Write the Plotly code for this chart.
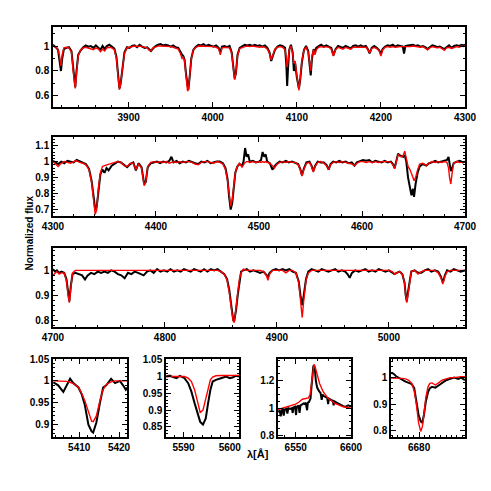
import plotly.graph_objs as go

# ---- panel 1: 3810-4300 A (shared wavelength grid for model and observed)
p1_wave = [3810, 3812, 3814, 3816, 3817.5, 3819.5, 3821, 3823, 3826, 3829,
           3832, 3834, 3835.5, 3836.5, 3838, 3840, 3843, 3846, 3849, 3852,
           3855, 3858, 3861, 3864, 3866.5, 3869, 3871.5, 3874, 3877, 3880,
           3883, 3885.5, 3887.5, 3889, 3890.5, 3892.5, 3895, 3898, 3901, 3904,
           3907, 3910, 3913, 3916, 3919, 3922, 3924.5, 3926.5, 3929, 3932,
           3935, 3938, 3941, 3944, 3947, 3950, 3953, 3956, 3959, 3961.5,
           3963.5, 3965, 3966.5, 3968.5, 3970, 3971, 3972.5, 3974.5, 3977, 3980,
           3983, 3986, 3989, 3992, 3995, 3998, 4001, 4004, 4007, 4009,
           4011, 4014, 4017, 4020, 4022.5, 4024.5, 4026, 4027.5, 4029.5, 4032,
           4035, 4038, 4041, 4044, 4047, 4050, 4053, 4056, 4059, 4062,
           4065, 4067.5, 4069.5, 4071.5, 4074, 4077, 4080, 4083, 4086, 4087.5,
           4088.5, 4089.5, 4091, 4093, 4095, 4096.5, 4098, 4100, 4101.5, 4102.5,
           4104, 4106, 4108.5, 4111, 4113.5, 4115, 4116.5, 4118, 4120, 4121.5,
           4123, 4126, 4129, 4132, 4135, 4138, 4141, 4143.5, 4146, 4149,
           4152, 4155, 4158, 4161, 4164, 4167, 4170, 4173, 4176, 4179,
           4182, 4184.5, 4186.5, 4189, 4192, 4195, 4198, 4200, 4202, 4205,
           4208, 4211, 4214, 4217, 4220, 4223, 4226, 4227.5, 4229, 4232,
           4235, 4238, 4241, 4244, 4247, 4250, 4253, 4255.5, 4258, 4261,
           4264, 4267, 4270, 4273, 4275.5, 4278, 4281, 4284, 4287, 4290,
           4293, 4296, 4298, 4300]
p1_model = [1.0, 0.995, 0.99, 0.97, 0.93, 0.84, 0.93, 0.985, 0.99, 0.985,
            0.95, 0.8, 0.67, 0.66, 0.78, 0.92, 0.97, 0.985, 0.99, 0.985,
            0.98, 0.97, 0.985, 0.975, 0.955, 0.975, 0.96, 0.985, 0.99, 0.985,
            0.97, 0.9, 0.75, 0.65, 0.7, 0.82, 0.94, 0.985, 0.99, 0.995,
            1.0, 0.995, 1.0, 0.995, 0.99, 0.985, 0.965, 0.96, 0.985, 0.995,
            1.0, 1.0, 1.0, 0.995, 1.0, 0.995, 0.99, 0.985, 0.975, 0.94,
            0.9, 0.91, 0.88, 0.74, 0.64, 0.65, 0.76, 0.9, 0.97, 0.99,
            1.0, 1.0, 1.0, 0.995, 1.0, 0.995, 0.995, 0.99, 0.98, 0.93,
            0.985, 0.99, 0.99, 0.985, 0.94, 0.82, 0.73, 0.78, 0.92, 0.98,
            0.99, 0.995, 1.0, 0.995, 1.0, 0.995, 0.995, 0.99, 0.995, 0.99,
            0.975, 0.94, 0.89, 0.93, 0.975, 0.99, 0.995, 0.99, 0.97, 0.9,
            0.83, 0.88, 0.97, 1.0, 0.94, 0.86, 0.88, 0.76, 0.66, 0.645,
            0.74, 0.88, 0.97, 0.99, 0.95, 0.86, 0.8, 0.92, 0.97, 0.93,
            0.97, 0.99, 0.995, 0.99, 0.995, 0.99, 0.975, 0.92, 0.97, 0.99,
            0.985, 0.975, 0.99, 0.985, 0.975, 0.99, 0.99, 0.995, 0.99, 0.99,
            0.99, 0.97, 0.945, 0.98, 0.99, 0.98, 0.96, 0.92, 0.97, 0.99,
            0.995, 0.99, 0.995, 0.99, 0.995, 0.995, 0.995, 0.995, 0.995, 0.99,
            0.995, 1.0, 0.995, 0.995, 0.99, 0.995, 0.985, 0.97, 0.985, 0.995,
            0.99, 0.985, 0.99, 0.975, 0.965, 0.985, 0.99, 0.98, 0.99, 0.995,
            0.99, 1.0, 0.995, 1.0]
p1_obs = [1.01, 1.0, 0.985, 0.97, 0.9, 0.8, 0.9, 0.975, 0.985, 0.99,
          0.96, 0.82, 0.69, 0.67, 0.8, 0.93, 0.965, 0.99, 1.005, 0.995,
          1.0, 0.985, 1.005, 0.99, 0.97, 1.0, 0.975, 1.0, 1.01, 0.995,
          0.98, 0.91, 0.77, 0.66, 0.7, 0.83, 0.95, 0.99, 0.985, 1.0,
          1.005, 0.99, 1.01, 0.995, 0.985, 0.99, 0.975, 0.96, 0.98, 1.0,
          1.01, 1.015, 1.005, 1.01, 1.005, 0.995, 1.005, 0.99, 0.985, 0.95,
          0.93, 0.92, 0.89, 0.76, 0.66, 0.65, 0.75, 0.9, 0.97, 0.995,
          1.01, 1.005, 1.015, 1.0, 1.01, 1.005, 0.995, 1.005, 0.985, 0.95,
          0.995, 1.0, 0.99, 1.0, 0.95, 0.83, 0.74, 0.78, 0.93, 0.985,
          1.0, 1.01, 1.005, 1.01, 1.0, 1.01, 1.0, 1.005, 0.995, 1.005,
          0.985, 0.95, 0.88, 0.92, 0.97, 0.995, 1.005, 1.0, 0.985, 0.85,
          0.68, 0.82, 0.97, 1.01, 0.95, 0.8, 0.86, 0.75, 0.67, 0.66,
          0.73, 0.87, 0.97, 1.0, 0.96, 0.83, 0.765, 0.9, 0.975, 0.94,
          0.985, 1.0, 1.01, 0.995, 1.005, 0.995, 0.985, 0.925, 0.975, 1.0,
          0.995, 0.985, 1.0, 0.99, 0.98, 1.0, 1.005, 0.995, 1.005, 0.995,
          1.0, 0.975, 0.94, 0.985, 1.0, 0.985, 0.965, 0.935, 0.975, 0.995,
          1.005, 1.0, 1.01, 0.995, 1.005, 1.0, 0.995, 0.94, 1.0, 1.005,
          1.005, 1.01, 1.0, 1.005, 0.995, 1.0, 0.99, 0.975, 0.99, 1.005,
          1.0, 0.99, 0.995, 0.985, 0.975, 0.99, 1.005, 0.985, 1.0, 1.005,
          1.0, 1.01, 1.005, 1.01]

# ---- panel 2: 4300-4700 A
p2_wave = [4300, 4303, 4305, 4308, 4311, 4314, 4317, 4320, 4323, 4326,
           4329, 4332, 4335, 4337.5, 4339.5, 4341, 4342.5, 4344, 4346, 4348,
           4350, 4352, 4354, 4357, 4360, 4363, 4366, 4369, 4372, 4375,
           4378, 4380.5, 4383, 4386, 4388.5, 4390, 4392, 4395, 4398, 4401,
           4404, 4407, 4410, 4413, 4415, 4417, 4420, 4423, 4426, 4429,
           4432, 4435, 4438, 4441, 4444, 4447, 4450, 4453, 4456, 4459,
           4462, 4465, 4467.5, 4469.5, 4471, 4472.5, 4474, 4475.5, 4477, 4479,
           4481, 4483.5, 4485, 4486.5, 4488, 4489.5, 4491, 4494, 4497, 4500,
           4502, 4503.5, 4505, 4506.5, 4508, 4510.5, 4513, 4515, 4517, 4520,
           4523, 4526, 4529, 4532, 4535, 4538, 4540, 4541.7, 4543.5, 4546,
           4549, 4551, 4552.7, 4554.5, 4557, 4560, 4563, 4565.5, 4567.6, 4569.5,
           4572, 4575, 4578, 4581, 4584, 4587, 4590, 4592.7, 4595, 4598,
           4601, 4604, 4607, 4610, 4613, 4616, 4619, 4622, 4625, 4628,
           4630, 4631.7, 4633.5, 4635, 4636.5, 4638, 4640, 4641.5, 4643, 4644.7,
           4646.5, 4648, 4649.5, 4650.5, 4652, 4654, 4656, 4659, 4662.5, 4665,
           4668, 4671, 4674, 4677, 4680, 4682.5, 4684, 4685, 4686.2, 4687.5,
           4689, 4692, 4695, 4698, 4700]
p2_model = [1.0, 0.985, 0.97, 0.99, 1.0, 0.995, 0.99, 1.0, 1.005, 0.995,
            0.99, 0.98, 0.95, 0.87, 0.76, 0.67, 0.7, 0.83, 0.93, 0.97,
            0.975, 0.98, 0.985, 0.99, 0.995, 1.0, 0.995, 0.975, 0.97, 0.99,
            0.99, 0.95, 0.985, 0.96, 0.85, 0.87, 0.97, 0.995, 1.0, 0.995,
            1.0, 0.995, 1.0, 0.99, 0.995, 1.0, 0.995, 1.0, 0.995, 1.0,
            1.0, 0.995, 0.985, 0.98, 0.995, 1.0, 1.0, 0.995, 0.99, 1.0,
            0.995, 0.985, 0.95, 0.88, 0.78, 0.72, 0.76, 0.86, 0.93, 0.97,
            0.99, 0.965, 0.985, 0.995, 1.0, 1.0, 0.995, 1.0, 0.995, 1.0,
            0.995, 1.0, 0.995, 1.0, 0.995, 0.99, 0.975, 0.96, 0.98, 0.995,
            1.0, 0.995, 1.0, 0.995, 0.995, 0.98, 0.95, 0.91, 0.95, 0.99,
            0.995, 0.97, 0.935, 0.97, 0.995, 1.0, 0.99, 0.975, 0.95, 0.98,
            0.995, 1.0, 0.995, 1.0, 0.995, 0.99, 0.985, 0.975, 0.99, 1.0,
            1.0, 0.995, 1.0, 0.995, 1.0, 0.995, 1.0, 1.0, 1.0, 0.995,
            0.98, 0.955, 1.0, 1.045, 1.035, 1.03, 1.04, 1.065, 1.02, 0.97,
            0.95, 0.93, 0.9, 0.88, 0.9, 0.95, 0.985, 0.99, 0.975, 0.99,
            1.0, 0.995, 1.0, 0.995, 1.0, 0.995, 0.96, 0.9, 0.86, 0.93,
            0.99, 1.0, 0.995, 1.0, 1.0]
p2_obs = [1.005, 0.995, 0.985, 1.0, 0.99, 1.005, 1.0, 0.995, 1.01, 1.0,
          0.995, 0.985, 0.955, 0.88, 0.78, 0.7, 0.72, 0.82, 0.92, 0.95,
          0.93, 0.96, 0.945, 0.975, 0.99, 1.0, 0.995, 0.98, 0.965, 0.985,
          0.995, 0.945, 0.99, 0.965, 0.86, 0.87, 0.965, 0.99, 0.995, 1.0,
          0.99, 1.0, 0.995, 1.005, 1.03, 0.995, 1.005, 0.99, 1.0, 0.995,
          1.005, 0.995, 0.99, 0.985, 1.0, 0.995, 1.005, 0.99, 0.995, 1.0,
          1.0, 0.99, 0.96, 0.89, 0.78, 0.7, 0.74, 0.85, 0.93, 0.97,
          0.985, 0.975, 1.0, 1.085, 1.03, 1.045, 1.0, 1.005, 0.995, 1.0,
          1.01, 1.06, 1.03, 1.045, 1.0, 0.99, 0.95, 0.97, 0.985, 1.0,
          0.995, 1.005, 0.995, 1.0, 0.99, 0.985, 0.955, 0.915, 0.955, 0.995,
          1.0, 0.975, 0.94, 0.975, 1.0, 0.995, 0.995, 0.98, 0.95, 0.985,
          1.0, 0.995, 1.005, 0.995, 1.0, 0.99, 0.995, 0.975, 0.995, 1.005,
          1.01, 1.005, 1.01, 0.995, 1.005, 1.0, 0.995, 1.005, 0.995, 1.0,
          0.985, 0.96, 1.01, 1.05, 1.04, 1.035, 1.03, 1.04, 1.0, 0.9,
          0.85, 0.79, 0.83, 0.78, 0.86, 0.93, 0.97, 0.985, 0.975, 0.99,
          0.995, 1.005, 0.995, 1.0, 1.005, 1.01, 1.03, 0.97, 0.94, 0.96,
          0.99, 1.0, 1.005, 0.995, 1.0]

# ---- panel 3: 4700-5068 A
p3_wave = [4700, 4702, 4703.5, 4705.5, 4707.5, 4710, 4712, 4713.5, 4714.6, 4716,
           4717.5, 4720, 4723, 4726, 4728.6, 4731, 4734, 4737, 4740, 4743,
           4746, 4749, 4752, 4755, 4758, 4761, 4764, 4767, 4770, 4773,
           4776, 4779, 4781, 4784, 4787, 4790, 4793, 4796, 4799, 4802,
           4805, 4808, 4811, 4814, 4817, 4820, 4823, 4826, 4829, 4832,
           4835, 4838, 4841, 4844, 4847, 4850, 4853, 4855.5, 4857.5, 4859.5,
           4861, 4862, 4863.5, 4865, 4866.5, 4868, 4870, 4873, 4876, 4879,
           4882, 4885, 4888, 4890.5, 4892, 4893.5, 4896, 4899, 4902, 4905,
           4908, 4911, 4914, 4917, 4919.5, 4921, 4922.6, 4924, 4926, 4928,
           4931, 4934, 4937, 4940, 4943, 4946, 4949, 4952, 4955, 4958,
           4961, 4963, 4965, 4967, 4970, 4973, 4976, 4979, 4982, 4985,
           4988, 4991, 4994, 4997, 5000, 5003, 5005, 5007, 5009.5, 5012,
           5014, 5015, 5016, 5017, 5018.5, 5020, 5023, 5026, 5029, 5032,
           5035, 5038, 5041, 5044, 5046.5, 5048.2, 5050, 5052, 5055, 5058,
           5061, 5064, 5068]
p3_model = [0.98, 0.99, 0.995, 0.985, 0.99, 0.99, 0.96, 0.9, 0.87, 0.93,
            0.99, 1.0, 1.0, 1.0, 1.0, 1.0, 1.0, 1.0, 1.0, 1.0,
            1.0, 1.0, 1.0, 1.0, 1.0, 1.0, 1.0, 1.0, 1.0, 1.0,
            1.0, 1.0, 1.0, 1.0, 1.0, 1.0, 1.0, 1.0, 1.0, 1.0,
            1.0, 1.0, 1.0, 1.0, 1.0, 1.0, 1.0, 1.0, 1.0, 1.0,
            1.0, 1.0, 1.0, 1.0, 1.0, 0.995, 0.985, 0.96, 0.91, 0.84,
            0.795, 0.79, 0.84, 0.91, 0.965, 0.99, 1.005, 1.0, 1.0, 1.0,
            1.0, 1.0, 0.995, 0.98, 0.96, 0.985, 1.0, 1.0, 1.0, 1.0,
            0.99, 1.0, 1.0, 0.99, 0.95, 0.88, 0.81, 0.88, 0.96, 0.99,
            1.0, 1.0, 1.0, 1.0, 1.0, 1.0, 1.0, 1.0, 1.0, 1.0,
            1.0, 1.0, 1.0, 1.0, 1.0, 1.0, 1.0, 1.0, 1.0, 1.0,
            1.0, 1.0, 1.0, 1.0, 1.0, 0.995, 0.985, 0.99, 0.995, 0.985,
            0.95, 0.9, 0.87, 0.9, 0.96, 0.995, 1.0, 0.985, 0.995, 1.0,
            1.0, 1.0, 1.0, 0.99, 0.97, 0.945, 0.975, 0.995, 1.0, 1.0,
            1.0, 1.0, 1.0]
p3_obs = [1.005, 0.995, 1.0, 0.99, 0.995, 0.99, 0.965, 0.9, 0.875, 0.94,
          0.985, 0.99, 0.985, 0.98, 0.963, 0.98, 0.99, 0.985, 0.995, 0.99,
          0.995, 0.99, 1.0, 0.995, 0.985, 0.98, 0.968, 0.99, 0.985, 0.995,
          0.99, 0.985, 0.98, 0.995, 1.0, 0.99, 1.005, 0.995, 1.0, 0.995,
          1.005, 0.995, 1.0, 0.995, 1.005, 1.0, 0.995, 1.005, 1.0, 0.995,
          1.005, 0.995, 1.005, 1.0, 1.005, 0.995, 0.985, 0.965, 0.92, 0.85,
          0.8, 0.8, 0.84, 0.9, 0.96, 0.995, 1.0, 1.005, 0.995, 1.0,
          0.995, 0.99, 0.995, 0.985, 0.975, 0.99, 1.0, 1.005, 1.0, 1.005,
          1.0, 1.005, 0.995, 0.99, 0.955, 0.9, 0.86, 0.9, 0.965, 0.995,
          1.005, 1.0, 0.995, 1.005, 1.0, 0.995, 1.0, 1.005, 0.995, 1.0,
          0.995, 0.985, 0.97, 0.99, 1.0, 0.995, 1.0, 1.005, 0.995, 1.0,
          0.995, 1.005, 1.0, 0.995, 1.0, 0.99, 0.985, 0.99, 0.995, 0.985,
          0.95, 0.9, 0.875, 0.91, 0.96, 0.995, 1.0, 0.99, 0.99, 1.0,
          1.005, 0.995, 1.0, 0.995, 0.975, 0.95, 0.98, 1.0, 0.995, 1.005,
          1.0, 0.995, 1.0]

# ---- lower row: single-line windows
pa_wave = [5403.5, 5404.7, 5406, 5406.8, 5407.7, 5408.5, 5409.8, 5410.6, 5411.4, 5412.3,
           5413.1, 5413.5, 5414.3, 5415.2, 5416, 5416.8, 5418, 5419, 5420.2, 5421,
           5421.7, 5422]
pa_model = [1.0, 1.0, 1.0, 0.999, 0.997, 0.994, 0.985, 0.972, 0.955, 0.93,
            0.908, 0.907, 0.92, 0.955, 0.98, 0.992, 0.998, 1.0, 1.0, 1.0,
            1.0, 1.0]
pa_obs = [0.997, 0.99, 0.975, 0.99, 1.005, 0.995, 0.985, 0.97, 0.945, 0.9,
          0.885, 0.882, 0.905, 0.95, 0.985, 0.99, 1.005, 0.995, 1.0, 0.99,
          0.98, 0.985]

pb_wave = [5586.2, 5587, 5587.7, 5588.5, 5589.2, 5590.2, 5591, 5591.7, 5592.4, 5593.1,
           5593.6, 5594.2, 5594.8, 5595.3, 5595.8, 5596.3, 5597, 5598.1, 5599.2, 5600,
           5600.6, 5601.3, 5602]
pb_model = [1.0, 1.0, 1.0, 1.0, 1.0, 1.0, 0.995, 0.985, 0.96, 0.915,
            0.893, 0.9, 0.935, 0.97, 0.99, 0.998, 1.002, 1.003, 1.003, 1.003,
            1.003, 1.003, 1.003]
pb_obs = [1.0, 1.003, 0.998, 0.995, 1.002, 0.995, 0.98, 0.955, 0.92, 0.885,
          0.865, 0.857, 0.875, 0.92, 0.96, 0.985, 0.99, 0.995, 1.0, 0.995,
          0.997, 1.002, 1.0]

# H-alpha window: model and observed on their own grids
pc_model_wave = [6534, 6538, 6542, 6546, 6550, 6553, 6556, 6559, 6561.5, 6563,
                 6564.3, 6565.5, 6566.6, 6567.6, 6569.4, 6571.6, 6574.8, 6579.4, 6585.5, 6593,
                 6600]
pc_model = [0.99, 1.0, 1.01, 1.02, 1.03, 1.045, 1.065, 1.07, 1.075, 1.1,
            1.17, 1.27, 1.32, 1.3, 1.24, 1.18, 1.12, 1.07, 1.035, 1.01,
            1.0]
pc_obs_wave = [6534, 6535.5, 6536.5, 6537.5, 6538.5, 6539.2, 6540, 6541.5, 6542.5, 6543.3,
               6545, 6546.5, 6547.3, 6548, 6549.5, 6550.3, 6551, 6552.5, 6553.5, 6554.3,
               6555.5, 6557, 6558, 6559, 6560.3, 6561, 6562, 6563.4, 6564.2, 6565,
               6566, 6566.8, 6567.5, 6568.2, 6569.4, 6571, 6572.5, 6573.5, 6574.3, 6575,
               6577, 6578.5, 6579.3, 6580, 6582, 6583.5, 6584.3, 6585, 6587, 6589,
               6591, 6593, 6595, 6597.5, 6599, 6600]
pc_obs = [0.975, 0.98, 0.94, 0.985, 0.99, 0.945, 0.99, 0.995, 0.96, 1.0,
          0.995, 1.0, 0.965, 1.005, 1.01, 0.95, 1.01, 1.02, 0.965, 1.02,
          1.025, 1.035, 1.03, 1.04, 0.985, 1.04, 1.045, 1.07, 1.15, 1.24,
          1.31, 1.305, 1.27, 1.2, 1.15, 1.125, 1.11, 1.06, 1.1, 1.09,
          1.08, 1.075, 1.03, 1.07, 1.06, 1.055, 1.02, 1.05, 1.04, 1.03,
          1.02, 1.015, 1.01, 1.02, 1.015, 1.015]

pd_wave = [6669.6, 6670.5, 6671.5, 6673, 6674, 6675, 6676.2, 6677.3, 6678.2, 6679,
           6679.8, 6680.6, 6681.2, 6681.8, 6682.5, 6683.3, 6684, 6684.8, 6686, 6687.2,
           6688.5, 6690, 6691.5, 6693, 6694.5, 6695.5, 6697]
pd_model = [0.998, 0.998, 0.998, 0.998, 0.997, 0.995, 0.99, 0.978, 0.95, 0.9,
            0.83, 0.797, 0.815, 0.86, 0.925, 0.965, 0.978, 0.98, 0.972, 0.98,
            0.99, 0.995, 1.0, 1.0, 1.003, 1.003, 1.003]
pd_obs = [1.017, 1.015, 1.005, 0.995, 0.99, 0.985, 0.98, 0.975, 0.96, 0.915,
          0.86, 0.835, 0.83, 0.86, 0.91, 0.945, 0.96, 0.965, 0.962, 0.97,
          0.98, 0.99, 0.995, 1.0, 0.995, 1.0, 0.99]

# (obs x, obs y, model x, model y, x range, y range, x major, x minor,
#  y major, y minor, x domain, y domain)
# domains allow for the 8px page margin the browser adds around the plot div
panels = [
    (p1_wave, p1_obs, p1_wave, p1_model, [3810, 4300], [0.512, 1.152], 100, 20, 0.2, 0.1,
     [0.0916, 0.9308], [0.7984, 0.9613]),
    (p2_wave, p2_obs, p2_wave, p2_model, [4300, 4700], [0.66, 1.154], 100, 20, 0.1, 0.02,
     [0.0916, 0.9308], [0.5764, 0.7373]),
    (p3_wave, p3_obs, p3_wave, p3_model, [4700, 5068], [0.772, 1.09], 100, 20, 0.1, 0.02,
     [0.0916, 0.9308], [0.3503, 0.5112]),
    (pa_wave, pa_obs, pa_wave, pa_model, [5403.4, 5422], [0.872, 1.05], 10, 2, 0.05, 0.01,
     [0.0916, 0.2424], [0.1263, 0.2851]),
    (pb_wave, pb_obs, pb_wave, pb_model, [5586.2, 5602], [0.82, 1.052], 10, 2, 0.05, 0.01,
     [0.3218, 0.4705], [0.1263, 0.2851]),
    (pc_obs_wave, pc_obs, pc_model_wave, pc_model, [6534, 6600], [0.79, 1.358], 50, 10, 0.2, 0.05,
     [0.5499, 0.6986], [0.1263, 0.2851]),
    (pd_wave, pd_obs, pd_wave, pd_model, [6669.6, 6697], [0.776, 1.07], 20, 2, 0.1, 0.02,
     [0.7800, 0.9308], [0.1263, 0.2851]),
]

tick_font = dict(family="Liberation Sans, Arial, sans-serif", size=10, color="black", weight="bold")


def axis_style(rng, major, minor, domain, anchor):
    # IDL-like boxed frame: inside ticks mirrored on all four sides
    return dict(range=rng, domain=domain, anchor=anchor, tick0=0, dtick=major,
                ticks="inside", ticklen=5, tickwidth=1, tickcolor="black",
                minor=dict(ticks="inside", dtick=minor, tick0=0, ticklen=2.5,
                           tickwidth=1, tickcolor="black"),
                showline=True, linecolor="black", linewidth=1.5, mirror="allticks",
                showgrid=False, zeroline=False, automargin=False, tickfont=tick_font)


fig = go.Figure()
layout = {}
for i, (ox, oy, mx, my, xr, yr, xmaj, xmin, ymaj, ymin, xdom, ydom) in enumerate(panels, start=1):
    sfx = "" if i == 1 else str(i)
    fig.add_trace(go.Scatter(x=ox, y=oy, mode="lines", line=dict(color="black", width=2.0),
                             xaxis="x" + sfx, yaxis="y" + sfx, hoverinfo="skip"))
    fig.add_trace(go.Scatter(x=mx, y=my, mode="lines", line=dict(color="#ff0000", width=1.4),
                             xaxis="x" + sfx, yaxis="y" + sfx, hoverinfo="skip"))
    layout["xaxis" + sfx] = axis_style(xr, xmaj, xmin, xdom, "y" + sfx)
    layout["yaxis" + sfx] = axis_style(yr, ymaj, ymin, ydom, "x" + sfx)

fig.update_layout(**layout)
fig.update_layout(width=491, height=491, autosize=False,
                  margin=dict(l=0, r=0, t=0, b=0),
                  paper_bgcolor="white", plot_bgcolor="white", showlegend=False,
                  annotations=[
                      dict(text="Normalized flux", x=0.0305, y=0.5418, xref="paper", yref="paper",
                           textangle=-90, showarrow=False,
                           font=dict(family="Liberation Sans, Arial, sans-serif", size=10,
                                     color="black", weight="bold")),
                      dict(text="λ[Å]", x=0.509, y=0.0754, xref="paper", yref="paper",
                           showarrow=False,
                           font=dict(family="Liberation Sans, Arial, sans-serif", size=11,
                                     color="black", weight="bold")),
                  ])

fig.write_html("out.html")
